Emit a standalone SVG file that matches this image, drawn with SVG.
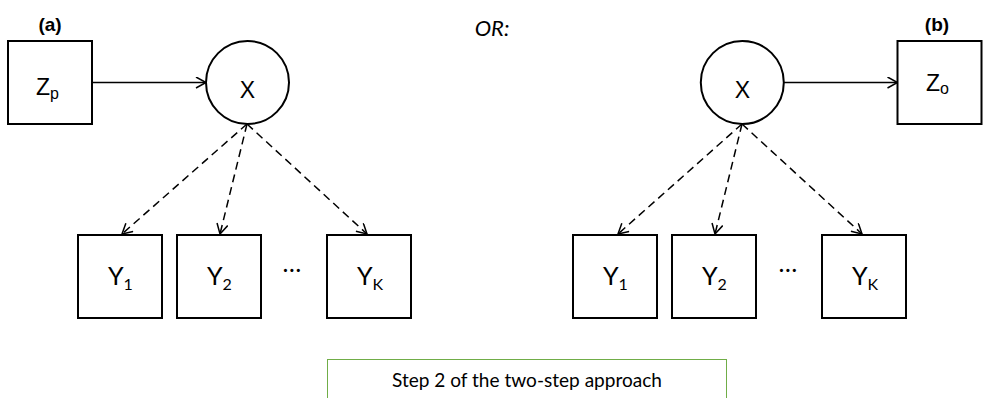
<svg xmlns="http://www.w3.org/2000/svg" width="983" height="398" viewBox="0 0 983 398">
<defs>
<marker id="arr" markerUnits="userSpaceOnUse" markerWidth="14" markerHeight="14" refX="11" refY="6" orient="auto">
<path d="M1,0.5 L11,6 L1,11.5" fill="none" stroke="#000" stroke-width="1.5"/>
</marker>
<style>
.box{fill:#fff;stroke:#000;stroke-width:2}
.lbl{font-family:"Liberation Sans",Arial,sans-serif;font-size:23px;fill:#000}
.yl{font-family:Lato,"Open Sans",sans-serif;font-size:25px;fill:#000}
.sub{font-size:16px}
.ttl{font-family:"Liberation Sans",Arial,sans-serif;font-size:19px;font-weight:bold;fill:#000}
.solid{fill:none;stroke:#000;stroke-width:1.5}
.dash{fill:none;stroke:#000;stroke-width:1.5;stroke-dasharray:8,5}
</style>
</defs>
<rect width="983" height="398" fill="#fff"/>
<text class="ttl" x="50" y="31" text-anchor="middle">(a)</text>
<text class="ttl" x="937" y="31" text-anchor="middle">(b)</text>
<text x="492" y="36" text-anchor="middle" font-family="Lato,'Open Sans',sans-serif" font-size="22" font-style="italic">OR:</text>
<g id="connectors">
<line class="solid" x1="92" y1="82.5" x2="206" y2="82.5" marker-end="url(#arr)"/>
<line class="dash" x1="247" y1="124" x2="122" y2="234" marker-end="url(#arr)"/>
<line class="dash" x1="247" y1="124" x2="220" y2="234" marker-end="url(#arr)"/>
<line class="dash" x1="247" y1="124" x2="367" y2="234" marker-end="url(#arr)"/>
<line class="solid" x1="784" y1="82.5" x2="897.5" y2="82.5" marker-end="url(#arr)"/>
<line class="dash" x1="742" y1="124" x2="618" y2="234" marker-end="url(#arr)"/>
<line class="dash" x1="742" y1="124" x2="715" y2="234" marker-end="url(#arr)"/>
<line class="dash" x1="742" y1="124" x2="862" y2="234" marker-end="url(#arr)"/>
</g>
<g id="Zp">
<rect class="box" x="8" y="41" width="84" height="83"/>
<text class="lbl" x="36" y="95">Z<tspan class="sub" dy="4">p</tspan></text>
</g>
<g id="Xa">
<circle class="box" cx="247.5" cy="82.5" r="41.5"/>
<text class="lbl" x="247.5" y="98" text-anchor="middle">X</text>
</g>
<g id="Y1a">
<rect class="box" x="78" y="235" width="84" height="83"/>
<text class="yl" x="108" y="285">Y<tspan class="sub" dy="5">1</tspan></text>
</g>
<g id="Y2a">
<rect class="box" x="177" y="235" width="84" height="83"/>
<text class="yl" x="207" y="285">Y<tspan class="sub" dy="5">2</tspan></text>
</g>
<text class="yl" x="292" y="272" text-anchor="middle">…</text>
<g id="YKa">
<rect class="box" x="327" y="235" width="84" height="83"/>
<text class="yl" x="357" y="285">Y<tspan class="sub" dy="5">K</tspan></text>
</g>
<g id="Xb">
<circle class="box" cx="742.3" cy="82.5" r="41.5"/>
<text class="lbl" x="742.3" y="98" text-anchor="middle">X</text>
</g>
<g id="Zo">
<rect class="box" x="897.5" y="41" width="84" height="83"/>
<text class="lbl" x="926" y="91">Z<tspan class="sub" dy="3">o</tspan></text>
</g>
<g id="Y1b">
<rect class="box" x="573" y="235" width="84" height="83"/>
<text class="yl" x="603" y="285">Y<tspan class="sub" dy="5">1</tspan></text>
</g>
<g id="Y2b">
<rect class="box" x="672" y="235" width="84" height="83"/>
<text class="yl" x="702" y="285">Y<tspan class="sub" dy="5">2</tspan></text>
</g>
<text class="yl" x="788" y="272" text-anchor="middle">…</text>
<g id="YKb">
<rect class="box" x="822" y="235" width="84" height="83"/>
<text class="yl" x="852" y="285">Y<tspan class="sub" dy="5">K</tspan></text>
</g>
<g id="caption">
<rect x="327.5" y="359.5" width="399" height="60" fill="#fff" stroke="#70AD47" stroke-width="1"/>
<text x="527" y="387" text-anchor="middle" font-family="Lato,'Open Sans',sans-serif" font-size="19" textLength="270" lengthAdjust="spacingAndGlyphs">Step 2 of the two-step approach</text>
</g>
</svg>
